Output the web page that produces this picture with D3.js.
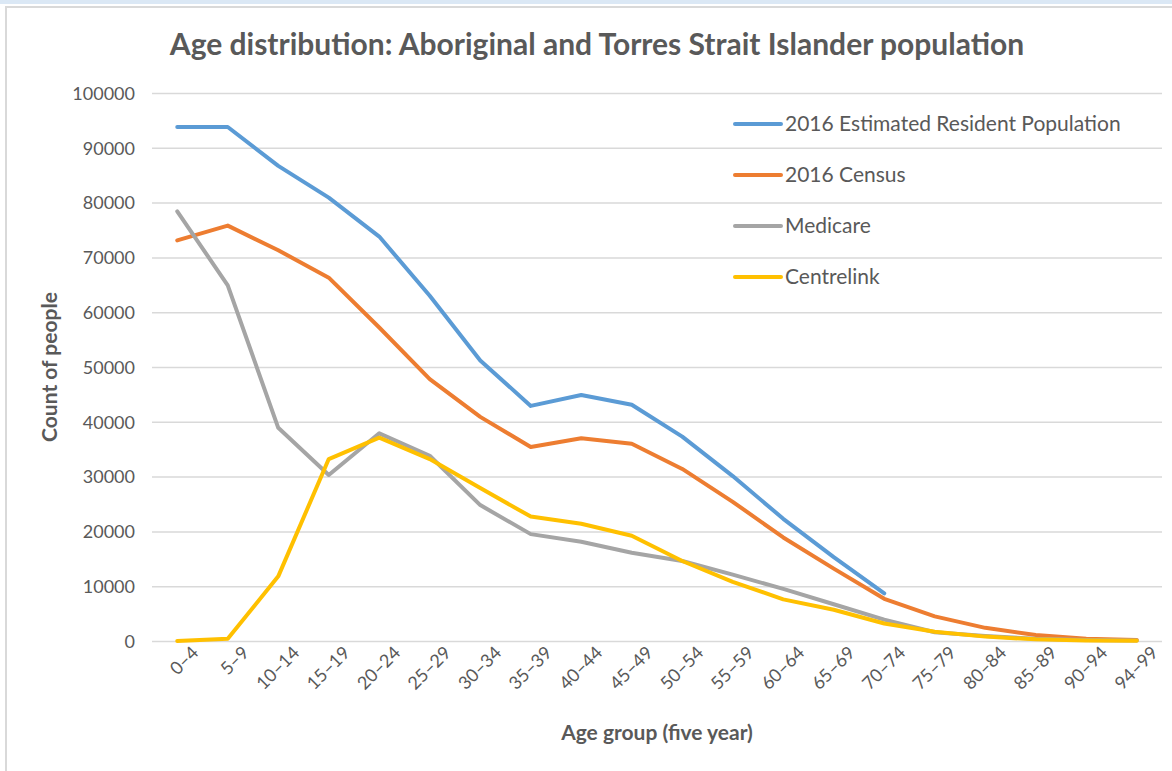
<!DOCTYPE html>
<html>
<head>
<meta charset="utf-8">
<script src="https://cdn.jsdelivr.net/npm/d3@7"></script>
<style>
  body { margin: 0; background: #fff; font-family: Lato, "Open Sans", sans-serif; }
  .grid line { stroke: #d9d9d9; stroke-width: 1.5; }
  .grid .domain { display: none; }
  .axis .domain, .axis line { display: none; }
  .axis text { fill: #595959; font-size: 18px; font-family: Lato, sans-serif; }
  .line { fill: none; stroke-width: 4; stroke-linejoin: round; stroke-linecap: round; }
</style>
</head>
<body>
<svg id="chart"></svg>
<script>
const ageGroups = ["0–4", "5–9", "10–14", "15–19", "20–24", "25–29", "30–34", "35–39", "40–44", "45–49",
    "50–54", "55–59", "60–64", "65–69", "70–74", "75–79", "80–84", "85–89", "90–94", "94–99"];

const erp = [93800, 93800, 86700, 80900, 73800, 63000, 51200, 42900, 44900, 43100,
    37300, 30100, 22300, 15300, 8700, null, null, null, null, null];
const census = [73100, 75800, 71300, 66300, 57200, 47800, 40900, 35400, 37000, 36000,
    31400, 25400, 18900, 13200, 7700, 4500, 2400, 1100, 400, 200];
const medicare = [78400, 64900, 38900, 30300, 37900, 33800, 24800, 19500, 18100, 16100,
    14600, 12100, 9500, 6700, 3900, 1600, 900, 400, 200, 100];
const centrelink = [0, 400, 11800, 33200, 37100, 33200, 27900, 22700, 21400, 19200,
    14600, 10800, 7600, 5700, 3200, 1700, 800, 300, 100, 50];

const seriesNames = ["2016 Estimated Resident Population", "2016 Census", "Medicare", "Centrelink"];
const seriesColors = ["#5B9BD5", "#ED7D31", "#A5A5A5", "#FFC000"];
const yTicks = [0, 10000, 20000, 30000, 40000, 50000, 60000, 70000, 80000, 90000, 100000];

const W = 1172, H = 771;
const margin = { top: 93, right: 10, bottom: 130, left: 152 };
const width = 1162 - margin.left;
const height = 641 - margin.top;

const root = d3.select("#chart").attr("width", W).attr("height", H);

// window strip and chart frame
root.append("rect").attr("x", 0).attr("y", 0).attr("width", W).attr("height", 4).attr("fill", "#dbe8f5");
root.append("rect").attr("x", 6).attr("y", 7).attr("width", W).attr("height", H)
    .attr("fill", "#fff").attr("stroke", "#d9d9d9").attr("stroke-width", 2);

root.append("text")
    .attr("x", 597).attr("y", 55)
    .attr("text-anchor", "middle")
    .style("font-size", "30px").style("font-weight", "bold").style("fill", "#595959")
    .text("Age distribution: Aboriginal and Torres Strait  Islander population");

const svg = root.append("g").attr("transform", `translate(${margin.left},${margin.top})`);

const xScale = d3.scalePoint().domain(ageGroups).range([0, width]).padding(0.5);
const yScale = d3.scaleLinear().domain([0, 100000]).range([height, 0]);

svg.append("g")
    .attr("class", "grid")
    .call(d3.axisLeft(yScale).tickValues(yTicks).tickSize(-width).tickFormat(""));

svg.append("g")
    .attr("class", "axis y-axis")
    .call(d3.axisLeft(yScale).tickValues(yTicks).tickSize(0).tickPadding(17).tickFormat(d3.format("d")))
    .selectAll("text").attr("dy", "0.35em");

svg.append("g")
    .attr("class", "axis x-axis")
    .attr("transform", `translate(0,${height})`)
    .call(d3.axisBottom(xScale).tickSize(0))
    .selectAll("text")
    .style("text-anchor", "end")
    .attr("dx", "0.35em")
    .attr("dy", "1.2em")
    .attr("transform", "rotate(-45)");

const line = d3.line()
    .defined(d => d.v !== null)
    .x(d => xScale(d.k))
    .y(d => yScale(d.v));

const allSeries = [erp, census, medicare, centrelink];
allSeries.forEach((vals, i) => {
    svg.append("path")
        .datum(vals.map((v, j) => ({ k: ageGroups[j], v: v })))
        .attr("class", "line")
        .attr("d", line)
        .style("stroke", seriesColors[i]);
});

// axis titles
svg.append("text")
    .attr("x", 657 - margin.left).attr("y", 740 - margin.top)
    .attr("text-anchor", "middle")
    .style("font-size", "21px").style("font-weight", "bold").style("fill", "#595959")
    .text("Age group (five year)");

svg.append("text")
    .attr("transform", "rotate(-90)")
    .attr("x", -(367 - margin.top)).attr("y", 57 - margin.left)
    .attr("text-anchor", "middle")
    .style("font-size", "21px").style("font-weight", "bold").style("fill", "#595959")
    .text("Count of people");

// legend
const legend = root.append("g").attr("transform", "translate(735,124)");
seriesNames.forEach((name, i) => {
    const g = legend.append("g").attr("transform", `translate(0,${i * 51})`);
    g.append("line").attr("x1", 0).attr("x2", 46).attr("y1", 0).attr("y2", 0)
        .attr("stroke", seriesColors[i]).attr("stroke-width", 4).attr("stroke-linecap", "round");
    g.append("text").attr("x", 50).attr("y", 0).attr("dy", "0.35em")
        .style("font-size", "21px").style("fill", "#595959")
        .text(name);
});
</script>
</body>
</html>
